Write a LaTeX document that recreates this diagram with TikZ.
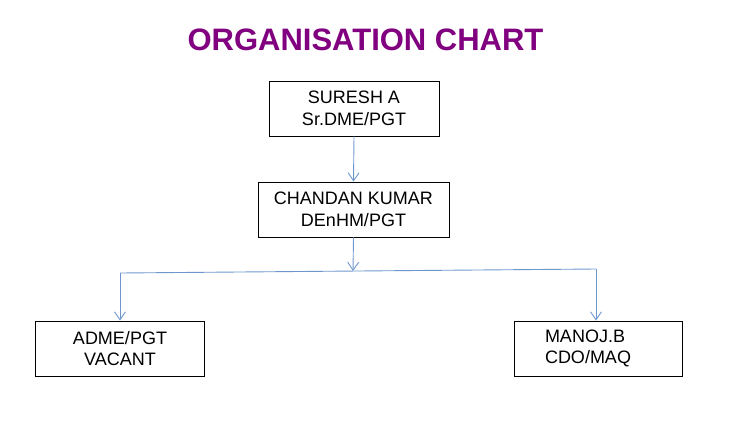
\documentclass[tikz,border=0pt]{standalone}
\usepackage{fontspec}
\setmainfont{Liberation Sans}
\usetikzlibrary{arrows.meta}
\definecolor{titlepurple}{RGB}{128,0,128}
\definecolor{connblue}{RGB}{110,152,205}
\tikzset{
  box/.style={draw=black, line width=0.9pt, minimum width=170pt, minimum height=55pt,
    align=center, font=\fontsize{18pt}{21.7pt}\selectfont, inner sep=0pt},
  conn/.style={draw=connblue, line width=0.9pt, -{Straight Barb[length=8pt,width=11pt]}},
  plainconn/.style={draw=connblue, line width=0.9pt},
}
\begin{document}
\begin{tikzpicture}[x=1pt,y=-1pt]
\useasboundingbox (0,0) rectangle (750,421);
\node[font=\fontsize{31pt}{36pt}\selectfont\bfseries, text=titlepurple] (title) at (365.5,40) {ORGANISATION CHART};
\node[box] (s) at (354,108.5) {SURESH A\\Sr.DME/PGT};
\node[box, minimum width=191pt] (c) at (353.5,209.5) {CHANDAN KUMAR\\DEnHM/PGT};
\node[box, minimum width=169pt] (l) at (120,348.5) {ADME/PGT\\VACANT};
\node[box, minimum width=168pt, text width=168pt, align=left] (r) at (598,348.5) {\hspace*{31pt}MANOJ.B\\\hspace*{31pt}CDO/MAQ};
\coordinate (j) at (353,271);
\coordinate (jl) at (120,273);
\coordinate (jr) at (596,269);
\draw[conn] (s.south) -- (c.north);
\draw[conn] (c.south) -- (j);
\draw[plainconn] (jl) -- (jr);
\draw[conn] (jl) -- (l.north);
\draw[conn] (jr) -- (jr |- r.north);
\end{tikzpicture}
\end{document}
